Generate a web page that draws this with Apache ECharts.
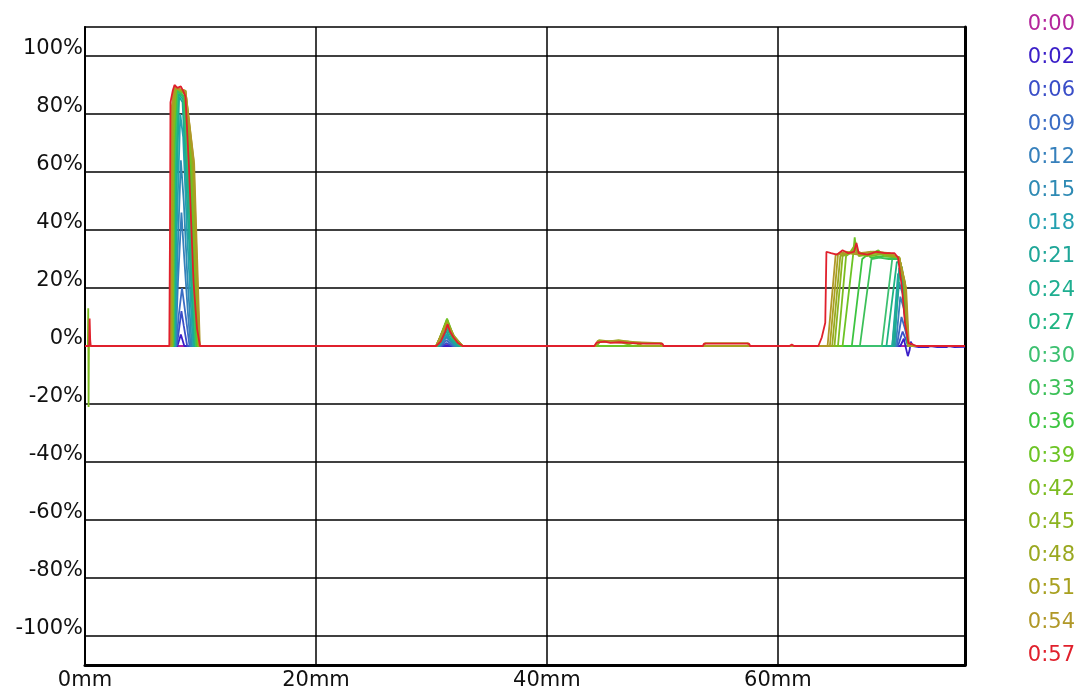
<!DOCTYPE html>
<html><head><meta charset="utf-8">
<script src="https://cdn.jsdelivr.net/npm/echarts@6/dist/echarts.min.js"></script>
<style>html,body{margin:0;padding:0;background:#fff}#c{width:1086px;height:693px}</style>
</head><body><div id="c"></div>
<script>
const xTicks = [0, 20, 40, 60];
const yTicks = [-100, -80, -60, -40, -20, 0, 20, 40, 60, 80, 100];
const names = ['0:00','0:02','0:06','0:09','0:12','0:15','0:18','0:21','0:24','0:27','0:30','0:33','0:36','0:39','0:42','0:45','0:48','0:51','0:54','0:57'];
const colors = ['#b4269c','#3a1ec8','#3a4ec8','#3a6cc4','#3680bc','#2e8ab4','#24a0b0','#1ea698','#1eae90','#1eb482','#3cc070','#3cc058','#3cc440','#6cc424','#7cbc20','#8cb420','#9aa820','#a8a020','#b09828','#e0202c'];

const s00 = [[0,0],[30.8,0],[31.3,0.5],[31.8,0],[76.2,0]];
const s02 = [[0,0],[8.0,0],[8.3,4],[8.6,0],[70.6,0],[70.9,2.5],[71.1,-1],[71.25,-3.5],[71.4,-1.5],[71.5,1.5],[71.7,0],[72.2,-0.4],[73.0,-0.4],[73.2,0],[73.8,-0.4],[74.6,-0.4],[74.8,0],[75.3,-0.4],[76.2,-0.3]];
const s06 = [[0,0],[7.95,0],[8.15,6],[8.35,12],[8.55,7],[8.85,0],[30.9,0],[31.3,1],[31.8,0],[70.4,0],[70.8,5],[71.0,3],[71.3,0],[76.2,0]];
const s09 = [[0,0],[7.9,0],[8.1,10],[8.4,20],[8.7,11],[9.05,0],[30.8,0],[31.3,2],[31.9,0],[70.3,0],[70.7,10],[71.0,6],[71.35,0],[76.2,0]];
const s12 = [[0,0],[7.85,0],[8.05,22],[8.35,46],[8.6,30],[8.9,12],[9.15,0],[30.7,0],[31.3,3],[32.0,0],[70.2,0],[70.6,17],[70.9,13],[71.3,0],[76.2,0]];
const s15 = [[0,0],[7.8,0],[8.0,30],[8.3,64],[8.55,50],[8.85,25],[9.25,0],[30.7,0],[31.3,3.5],[32.1,0],[70.0,0],[70.5,22],[70.8,18],[71.3,0],[76.2,0]];
const s18 = [[0,0],[7.8,0],[7.95,40],[8.25,80],[8.5,72],[8.85,38],[9.35,0],[30.6,0],[31.3,4],[32.2,0],[69.9,0],[70.4,25],[70.7,23],[71.3,0],[76.2,0]];
const s21 = [[0,0],[7.75,0],[7.9,50],[8.15,86],[8.45,84],[8.9,45],[9.45,0],[30.6,0],[31.3,5],[31.7,2],[32.3,0],[70.1,0],[70.5,27],[70.7,26],[71.3,0],[76.2,0]];
const s24 = [[0,0],[7.7,0],[7.85,55],[8.1,87],[8.5,85],[8.95,50],[9.5,0],[30.6,0],[31.3,6],[31.8,2.5],[32.4,0],[69.9,0],[70.6,28],[70.75,27],[71.3,0],[76.2,0]];
const s27 = [[0,0],[7.7,0],[7.8,60],[8.05,88],[8.5,86],[9.0,52],[9.55,0],[30.5,0],[31.3,7],[31.8,3],[32.5,0],[69.4,0],[70.3,29],[70.6,28.5],[70.9,22],[71.25,0],[76.2,0]];
const s30 = [[0,0],[7.65,0],[7.75,62],[8.0,88],[8.55,86],[9.05,55],[9.6,0],[30.5,0],[31.3,8],[31.8,3],[32.6,0],[69.0,0],[69.9,30],[70.3,30.5],[70.55,29.5],[70.9,22],[71.25,0],[76.2,0]];
const s33 = [[0,0],[7.65,0],[7.72,65],[7.95,88],[8.6,86],[9.1,58],[9.65,0],[30.5,0],[31.3,8.5],[31.85,3],[32.6,0],[67.1,0],[68.1,30],[68.8,30.5],[69.6,30],[70.5,30],[70.9,22],[71.25,0],[76.2,0]];
const s36 = [[0,0],[7.6,0],[7.7,68],[7.9,89],[8.6,87],[9.15,60],[9.7,0],[30.5,0],[31.35,9],[31.85,3],[32.6,0],[66.4,0],[67.3,30],[67.9,32],[68.0,30.5],[69.0,31],[70.4,30.5],[70.9,22],[71.25,0],[76.2,0]];
const s39 = [[0,0],[7.6,0],[7.68,70],[7.9,89],[8.65,87],[9.2,62],[9.75,0],[30.45,0],[31.35,9.5],[31.9,3.5],[32.65,0],[65.6,0],[66.5,31],[66.65,37.5],[66.8,32],[67.7,31],[68.7,33],[69.2,31],[70.5,30.5],[70.95,22],[71.3,0],[76.2,0]];
const s42 = [[0,0],[0.25,0],[0.28,13],[0.31,-21],[0.34,0],[7.55,0],[7.65,72],[7.85,89],[8.65,87],[9.25,63],[9.8,0],[30.45,0],[31.35,9],[31.9,3.5],[32.65,0],[44.3,0],[44.6,1.5],[46.5,1.2],[47.5,0],[65.2,0],[65.9,31],[66.6,33],[66.7,36],[66.9,32],[68.0,31],[69.5,32],[70.5,30.5],[70.95,22],[71.3,0],[76.2,0]];
const s45 = [[0,0],[7.55,0],[7.62,75],[7.85,89],[8.7,87],[9.3,64],[9.85,0],[30.4,0],[31.35,8.5],[31.95,3.5],[32.7,0],[44.2,0],[44.5,1.8],[46.0,1.5],[47.8,0.8],[48.2,0],[64.9,0],[65.6,31],[66.2,32],[66.7,35],[67.0,31],[68.5,32],[70.5,30.5],[71.0,22],[71.3,0],[76.2,0]];
const s48 = [[0,0],[7.5,0],[7.58,78],[7.8,89],[8.7,88],[9.35,64],[9.9,0],[30.4,0],[31.35,8],[31.95,3],[32.7,0],[44.2,0],[44.5,2],[45.4,1.6],[46.2,2],[47.8,1],[48.3,0],[64.7,0],[65.4,31],[66.0,32],[66.7,33],[67.5,31.5],[69.0,32],[70.5,30.5],[71.0,21],[71.3,0],[76.2,0]];
const s51 = [[0,0],[7.45,0],[7.55,80],[7.75,89],[8.7,88],[9.4,64],[9.9,0],[30.4,0],[31.35,8],[32.0,3],[32.7,0],[44.2,0],[44.4,1.8],[45.5,1.5],[47.0,1.6],[48.6,0.9],[49.8,0.9],[50.0,0],[64.5,0],[65.2,31.5],[66.0,32],[67.0,31.5],[68.0,32.5],[69.5,32],[70.5,30.5],[71.05,20],[71.3,0],[76.2,0]];
const s54 = [[0,0],[7.4,0],[7.5,82],[7.7,89],[8.7,88],[9.45,63],[9.95,0],[30.4,0],[31.35,7.5],[32.0,3],[32.7,0],[44.2,0],[44.4,1.5],[45.8,1.8],[47.5,1.3],[49.9,1],[50.1,0],[53.6,0],[53.7,1],[57.4,1],[57.5,0],[64.3,0],[65.0,31.5],[65.8,32.5],[67.0,32],[68.3,32.5],[69.7,32],[70.5,30.5],[71.1,20],[71.35,0],[76.2,0]];
const s57 = [[0,0],[0.36,0],[0.4,9.5],[0.45,2],[0.5,0],[7.3,0],[7.36,40],[7.4,84],[7.6,88],[7.75,90],[8.0,89],[8.3,89.5],[8.5,88],[8.7,86],[9.0,62],[9.4,22],[9.7,6],[9.96,0],[30.4,0],[30.8,1.5],[31.2,5],[31.4,7.5],[31.6,5],[31.9,3],[32.3,1],[32.7,0],[44.1,0],[44.3,1.2],[45.0,1.5],[45.5,1.1],[46.3,1.3],[47.0,1.1],[48.3,0.8],[50.0,0.8],[50.1,0],[53.5,0],[53.6,0.8],[57.5,0.8],[57.6,0],[61.0,0],[61.2,0.5],[61.4,0],[63.5,0],[63.8,3],[64.1,8],[64.2,32.5],[64.6,32],[65.1,31.5],[65.6,33],[66.1,32],[66.6,32.5],[66.8,35.5],[67.0,32],[67.8,31.5],[68.5,32.5],[69.3,32],[70.1,32],[70.4,30.5],[70.75,20],[71.0,8],[71.3,1],[71.5,0.8],[72.0,0],[76.2,0]];
const seriesData = [s00,s02,s06,s09,s12,s15,s18,s21,s24,s27,s30,s33,s36,s39,s42,s45,s48,s51,s54,s57];

const FONT = 'DejaVu Sans';
const chart = echarts.init(document.getElementById('c'), null, {renderer: 'canvas'});
const series = seriesData.map((d, i) => ({
  name: names[i], type: 'line', data: d, symbol: 'none', smooth: false,
  lineStyle: {color: colors[i], width: 1.8}, itemStyle: {color: colors[i]},
  emphasis: {disabled: true}, z: 3
}));
series[0].markLine = {
  silent: true, symbol: ['none', 'none'], z: 1, animation: false,
  label: {show: false}, lineStyle: {color: '#000', width: 1.5, type: 'solid'},
  data: yTicks.map(v => ({yAxis: v}))
};
chart.setOption({
  animation: false,
  backgroundColor: '#fff',
  grid: {left: 85, right: 121, top: 27, bottom: 28, show: true, borderColor: '#000', borderWidth: 1.5, backgroundColor: 'transparent'},
  legend: {
    orient: 'vertical', right: 6, top: 9, icon: 'none', itemWidth: 0, itemHeight: 0, itemGap: 12.2,
    selectedMode: false,
    textStyle: {fontFamily: FONT, fontSize: 21, lineHeight: 21},
    data: names.map((n, i) => ({name: n, textStyle: {color: colors[i]}}))
  },
  xAxis: {
    type: 'value', min: 0, max: 76.2, interval: 20,
    axisLine: {onZero: false, lineStyle: {color: '#000', width: 3}},
    axisTick: {show: false},
    splitLine: {show: true, lineStyle: {color: '#000', width: 1.5}},
    axisLabel: {formatter: v => xTicks.includes(v) ? v + 'mm' : '', fontFamily: FONT, fontSize: 21, color: '#111', margin: 5, showMaxLabel: false}
  },
  yAxis: [{
    type: 'value', min: -110, max: 110, interval: 10,
    axisLine: {show: true, onZero: false, lineStyle: {color: '#000', width: 2}},
    axisTick: {show: false}, splitLine: {show: false},
    axisLabel: {formatter: v => yTicks.includes(v) ? v + '%' : '', fontFamily: FONT, fontSize: 21, color: '#111', margin: 2, verticalAlign: 'bottom', lineHeight: 15}
  }, {
    type: 'value', position: 'right', min: -110, max: 110,
    axisLine: {show: true, onZero: false, lineStyle: {color: '#000', width: 3}},
    axisTick: {show: false}, splitLine: {show: false}, axisLabel: {show: false}
  }],
  series: series
});
</script></body></html>
